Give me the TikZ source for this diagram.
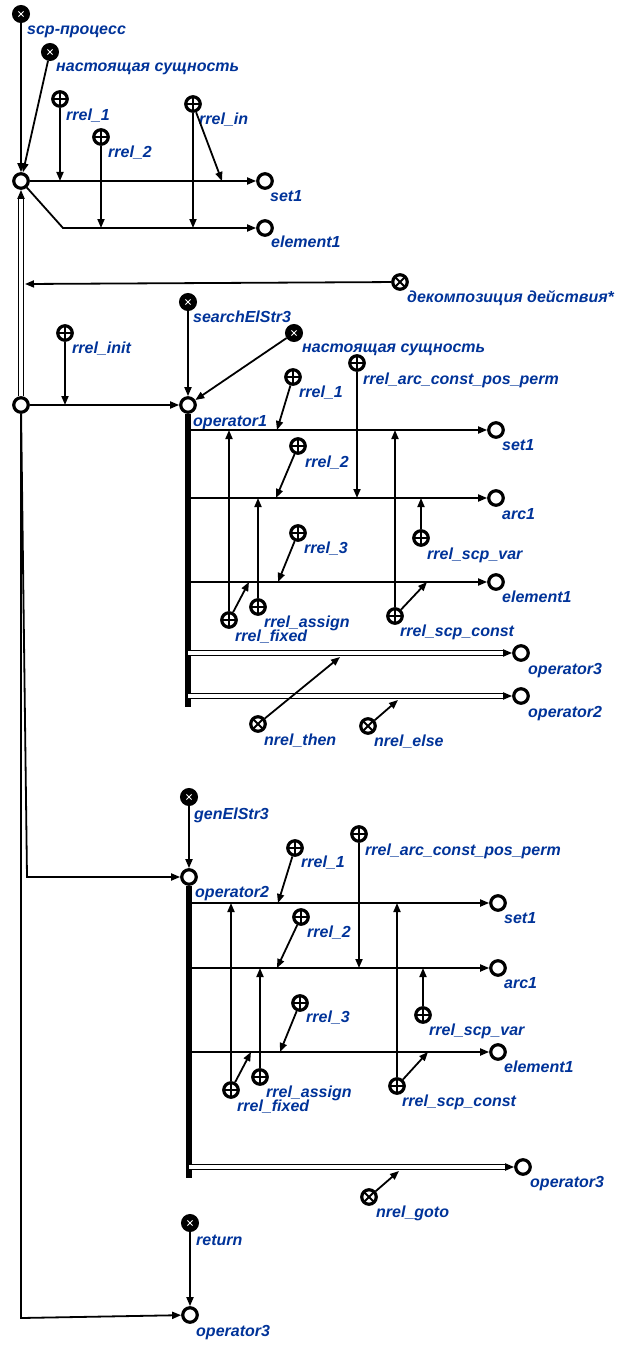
\documentclass[tikz,border=0pt]{standalone}
\usepackage{fontspec}
\setmainfont{Liberation Sans}
\usetikzlibrary{arrows.meta}
\definecolor{lblue}{RGB}{0,51,153}
\begin{document}
\begin{tikzpicture}[x=1pt,y=-1pt,
 el/.style={circle,draw=black,fill=white,line width=3.2pt,minimum size=14.5pt,inner sep=0pt},
 rel/.style={circle,draw=black,fill=white,line width=3.2pt,minimum size=14.5pt,inner sep=0pt,
   path picture={\draw[line width=1.8pt] (path picture bounding box.north) -- (path picture bounding box.south) (path picture bounding box.west) -- (path picture bounding box.east);}},
 nrel/.style={circle,draw=black,fill=white,line width=3.2pt,minimum size=14.5pt,inner sep=0pt,
   path picture={\draw[line width=1.8pt] (path picture bounding box.north west) -- (path picture bounding box.south east) (path picture bounding box.south west) -- (path picture bounding box.north east);}},
 cls/.style={circle,draw=black,fill=black,line width=2pt,minimum size=16pt,inner sep=0pt,
   path picture={\draw[white,line width=0.9pt] ([shift={(-2.6,-2.6)}]path picture bounding box.center) -- ++(5.2,5.2) ([shift={(-2.6,2.6)}]path picture bounding box.center) -- ++(5.2,-5.2);}},
 arr/.style={line width=1.8pt,-{Triangle[length=9pt,width=7pt]}},
 dbl/.style={line width=1.6pt,double=white,double distance=3.6pt},
 bar/.style={line width=5.5pt},
 lab/.style={font=\fontsize{16}{18}\selectfont\bfseries\itshape,text=lblue,inner sep=0pt,anchor=base west}]
\fill[white] (0,0) rectangle (630,1351);
\useasboundingbox (0,0) rectangle (630,1351);

% ---------- top group ----------
\node[cls] (scp) at (21,14) {};
\node[cls] (nsa) at (50,52) {};
\node[rel] (r1a) at (60,99) {};
\node[rel] (r2a) at (101,137) {};
\node[rel] (rin) at (193,104) {};
\node[el] (proc) at (21,181) {};
\node[el] (set1a) at (265,181) {};
\node[el] (el1a) at (265,228) {};
\node[nrel] (dec) at (400,282) {};
\node[el] (pair) at (21,405) {};

\node[lab] (lscp) at (27,35) {scp-процесс};
\node[lab] (lnsa) at (56,72) {настоящая сущность};
\node[lab] (lr1a) at (66,121) {rrel\_1};
\node[lab] (lr2a) at (108,158) {rrel\_2};
\node[lab] (lrin) at (199,125) {rrel\_in};
\node[lab] (lset1a) at (270,201) {set1};
\node[lab] (lel1a) at (271,247) {element1};
\node[lab] (ldec) at (407,302) {декомпозиция действия*};

\draw[arr] (scp) -- (proc);
\draw[arr] (nsa) -- (proc);
\draw[arr] (proc) -- (set1a);
\coordinate (c1) at (63,228);
\draw[arr] (proc) -- (c1) -- (el1a);
\coordinate (a1) at (60,181);
\coordinate (a2) at (101,228);
\coordinate (a3) at (222,181);
\coordinate (a4) at (193,228);
\draw[arr] (r1a) -- (a1);
\draw[arr] (r2a) -- (a2);
\draw[arr] (rin) -- (a3);
\draw[arr] (rin) -- (a4);
\coordinate (d0) at (21,199);
\draw[dbl] (pair) -- (d0);
\draw[arr] (d0) -- (proc);
\coordinate (ad) at (25,284);
\draw[arr] (dec) -- (ad);

% ---------- operator1 group ----------
\node[rel] (rinit) at (65,333) {};
\node[cls] (srch) at (188,302) {};
\node[cls] (nsb) at (294,333) {};
\node[el] (op1) at (188,405) {};
\node[el] (set1b) at (496,430) {};
\node[el] (arc1b) at (496,498) {};
\node[el] (el1b) at (496,582) {};
\node[el] (op3b) at (521,653) {};
\node[el] (op2b) at (521,696) {};
\node[rel] (r1b) at (293,377) {};
\node[rel] (r2b) at (298,446) {};
\node[rel] (r3b) at (298,533) {};
\node[rel] (rpb) at (357,363) {};
\node[rel] (rfb) at (229,620) {};
\node[rel] (rab) at (258,607) {};
\node[rel] (rcb) at (395,616) {};
\node[rel] (rvb) at (421,538) {};
\node[nrel] (nthen) at (258,724) {};
\node[nrel] (nelse) at (368,726) {};

\node[lab] (lsrch) at (193,322) {searchElStr3};
\node[lab] (lrinit) at (72,353) {rrel\_init};
\node[lab] (lnsb) at (302,352) {настоящая сущность};
\node[lab] (lrpb) at (363,384) {rrel\_arc\_const\_pos\_perm};
\node[lab] (lr1b) at (299,397) {rrel\_1};
\node[lab] (lop1) at (193,426) {operator1};
\node[lab] (lset1b) at (502,450) {set1};
\node[lab] (lr2b) at (305,467) {rrel\_2};
\node[lab] (larc1b) at (502,519) {arc1};
\node[lab] (lrvb) at (427,559) {rrel\_scp\_var};
\node[lab] (lr3b) at (304,553) {rrel\_3};
\node[lab] (lel1b) at (502,602) {element1};
\node[lab] (lrab) at (264,627) {rrel\_assign};
\node[lab] (lrfb) at (235,641) {rrel\_fixed};
\node[lab] (lrcb) at (400,636) {rrel\_scp\_const};
\node[lab] (lop3b) at (528,674) {operator3};
\node[lab] (lop2b) at (528,717) {operator2};
\node[lab] (lnthen) at (264,745) {nrel\_then};
\node[lab] (lnelse) at (374,746) {nrel\_else};

\draw[arr] (pair) -- (op1);
\coordinate (ai) at (65,405);
\draw[arr] (rinit) -- (ai);
\draw[arr] (srch) -- (op1);
\draw[arr] (nsb) -- (op1);
\coordinate (bar1) at (188,707);
\draw[bar] (op1) -- (bar1);
\coordinate (b1) at (188,430);
\coordinate (b2) at (188,498);
\coordinate (b3) at (188,582);
\coordinate (b4) at (188,653);
\coordinate (b5) at (188,696);
\draw[arr] (b1) -- (set1b);
\draw[arr] (b2) -- (arc1b);
\draw[arr] (b3) -- (el1b);
\coordinate (e4) at (503,653);
\coordinate (e5) at (503,696);
\draw[dbl] (b4) -- (e4);
\draw[arr] (e4) -- (op3b);
\draw[dbl] (b5) -- (e5);
\draw[arr] (e5) -- (op2b);
\coordinate (p1) at (277,430);
\coordinate (p2) at (276,498);
\coordinate (p3) at (278,582);
\coordinate (p4) at (357,498);
\coordinate (p5) at (229,430);
\coordinate (p6) at (249,582);
\coordinate (p7) at (258,498);
\coordinate (p8) at (395,430);
\coordinate (p9) at (427,582);
\coordinate (p10) at (421,498);
\coordinate (p11) at (340,657);
\coordinate (p12) at (398,700);
\draw[arr] (r1b) -- (p1);
\draw[arr] (r2b) -- (p2);
\draw[arr] (r3b) -- (p3);
\draw[arr] (rpb) -- (p4);
\draw[arr] (rfb) -- (p5);
\draw[arr] (rfb) -- (p6);
\draw[arr] (rab) -- (p7);
\draw[arr] (rcb) -- (p8);
\draw[arr] (rcb) -- (p9);
\draw[arr] (rvb) -- (p10);
\draw[arr] (nthen) -- (p11);
\draw[arr] (nelse) -- (p12);

% ---------- operator2 group ----------
\node[cls] (gen) at (189,797) {};
\node[el] (op2) at (189,877) {};
\node[el] (set1c) at (498,903) {};
\node[el] (arc1c) at (498,968) {};
\node[el] (el1c) at (498,1052) {};
\node[el] (op3c) at (523,1167) {};
\node[rel] (r1c) at (295,848) {};
\node[rel] (r2c) at (301,917) {};
\node[rel] (r3c) at (300,1003) {};
\node[rel] (rpc) at (359,834) {};
\node[rel] (rfc) at (231,1090) {};
\node[rel] (rac) at (260,1077) {};
\node[rel] (rcc) at (397,1086) {};
\node[rel] (rvc) at (423,1015) {};
\node[nrel] (ngoto) at (369,1197) {};

\node[lab] (lgen) at (194,819) {genElStr3};
\node[lab] (lr1c) at (301,867) {rrel\_1};
\node[lab] (lrpc) at (365,855) {rrel\_arc\_const\_pos\_perm};
\node[lab] (lop2) at (195,897) {operator2};
\node[lab] (lset1c) at (504,923) {set1};
\node[lab] (lr2c) at (307,937) {rrel\_2};
\node[lab] (larc1c) at (504,988) {arc1};
\node[lab] (lrvc) at (429,1035) {rrel\_scp\_var};
\node[lab] (lr3c) at (306,1022) {rrel\_3};
\node[lab] (lel1c) at (504,1072) {element1};
\node[lab] (lrac) at (266,1097) {rrel\_assign};
\node[lab] (lrfc) at (237,1111) {rrel\_fixed};
\node[lab] (lrcc) at (402,1106) {rrel\_scp\_const};
\node[lab] (lop3c) at (530,1187) {operator3};
\node[lab] (lngoto) at (376,1217) {nrel\_goto};

\coordinate (v2) at (27,877);
\draw[arr] (pair) -- (v2) -- (op2);
\draw[arr] (gen) -- (op2);
\coordinate (bar2) at (189,1178);
\draw[bar] (op2) -- (bar2);
\coordinate (g1) at (189,903);
\coordinate (g2) at (189,968);
\coordinate (g3) at (189,1052);
\coordinate (g4) at (189,1167);
\draw[arr] (g1) -- (set1c);
\draw[arr] (g2) -- (arc1c);
\draw[arr] (g3) -- (el1c);
\coordinate (f4) at (505,1167);
\draw[dbl] (g4) -- (f4);
\draw[arr] (f4) -- (op3c);
\coordinate (q1) at (278,903);
\coordinate (q2) at (277,968);
\coordinate (q3) at (280,1052);
\coordinate (q4) at (359,968);
\coordinate (q5) at (231,903);
\coordinate (q6) at (251,1052);
\coordinate (q7) at (260,968);
\coordinate (q8) at (397,903);
\coordinate (q9) at (428,1052);
\coordinate (q10) at (423,968);
\coordinate (q11) at (399,1171);
\draw[arr] (r1c) -- (q1);
\draw[arr] (r2c) -- (q2);
\draw[arr] (r3c) -- (q3);
\draw[arr] (rpc) -- (q4);
\draw[arr] (rfc) -- (q5);
\draw[arr] (rfc) -- (q6);
\draw[arr] (rac) -- (q7);
\draw[arr] (rcc) -- (q8);
\draw[arr] (rcc) -- (q9);
\draw[arr] (rvc) -- (q10);
\draw[arr] (ngoto) -- (q11);

% ---------- operator3 group ----------
\node[cls] (ret) at (190,1223) {};
\node[el] (op3) at (190,1315) {};
\node[lab] (lret) at (196,1245) {return};
\node[lab] (lop3) at (196,1336) {operator3};
\coordinate (v3) at (21,1318);
\draw[arr] (pair) -- (v3) -- (op3);
\draw[arr] (ret) -- (op3);
\end{tikzpicture}
\end{document}
